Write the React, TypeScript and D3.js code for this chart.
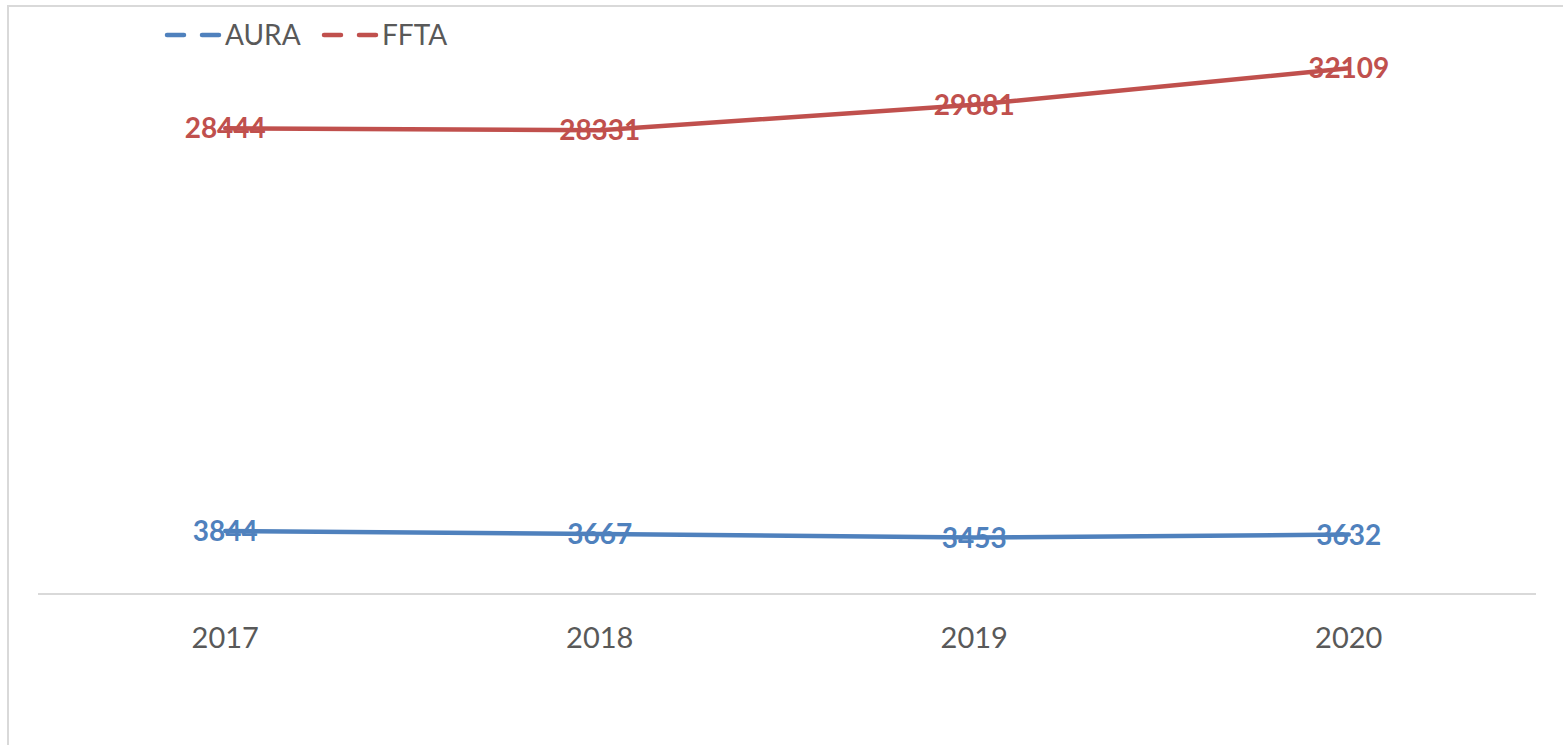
import * as d3 from "d3";

const years = ["2017", "2018", "2019", "2020"];
const auraValues = [3844, 3667, 3453, 3632];
const fftaValues = [28444, 28331, 29881, 32109];
const seriesNames = ["AURA", "FFTA"];
const seriesColors = ["#4F81BD", "#C0504D"];

const WIDTH = 1563;
const HEIGHT = 745;
const PLOT = { left: 38, right: 1536, top: 21, bottom: 594 };
const FONT = "Lato, 'Open Sans', sans-serif";

const App = () => {
  const xScale = d3.scaleBand().domain(years).range([PLOT.left, PLOT.right]);
  const yScale = d3.scaleLinear().domain([0, 35000]).range([PLOT.bottom, PLOT.top]);

  const line = d3
    .line<number>()
    .x((_, i) => (xScale(years[i]) ?? 0) + xScale.bandwidth() / 2)
    .y((d) => yScale(d));

  const series = [auraValues, fftaValues];

  return (
    <svg
      width={WIDTH}
      height={HEIGHT}
      style={{ position: "absolute", left: 0, top: 0, background: "#fff" }}
    >
      {/* chart frame, cut off at right and bottom like the original */}
      <rect x={8} y={6} width={WIDTH} height={HEIGHT} fill="#fff" stroke="#d9d9d9" strokeWidth={2} />

      {/* x axis */}
      <line x1={PLOT.left} x2={PLOT.right} y1={PLOT.bottom} y2={PLOT.bottom} stroke="#d9d9d9" strokeWidth={2} />
      {years.map((y) => (
        <text
          key={y}
          x={(xScale(y) ?? 0) + xScale.bandwidth() / 2}
          y={648}
          textAnchor="middle"
          fontFamily={FONT}
          fontSize={29}
          fill="#595959"
        >
          {y}
        </text>
      ))}

      {/* lines */}
      {series.map((vals, s) => (
        <path
          key={seriesNames[s]}
          d={line(vals) ?? ""}
          fill="none"
          stroke={seriesColors[s]}
          strokeWidth={4.5}
          strokeLinejoin="round"
          strokeLinecap="round"
        />
      ))}

      {/* data labels */}
      {series.map((vals, s) =>
        vals.map((v, i) => (
          <text
            key={`${s}-${i}`}
            x={(xScale(years[i]) ?? 0) + xScale.bandwidth() / 2}
            y={yScale(v)}
            dy="0.36em"
            textAnchor="middle"
            fontFamily={FONT}
            fontWeight="bold"
            fontSize={28}
            fill={seriesColors[s]}
          >
            {v}
          </text>
        ))
      )}

      {/* legend */}
      {seriesNames.map((name, s) => {
        const x0 = s === 0 ? 167 : 324;
        return (
          <g key={name}>
            <line
              x1={x0}
              x2={x0 + 53}
              y1={35}
              y2={35}
              stroke={seriesColors[s]}
              strokeWidth={4.5}
              strokeLinecap="round"
              strokeDasharray="17 18"
            />
            <text x={x0 + 58} y={45} fontFamily={FONT} fontSize={28} fill="#595959">
              {name}
            </text>
          </g>
        );
      })}
    </svg>
  );
};

export default App;
